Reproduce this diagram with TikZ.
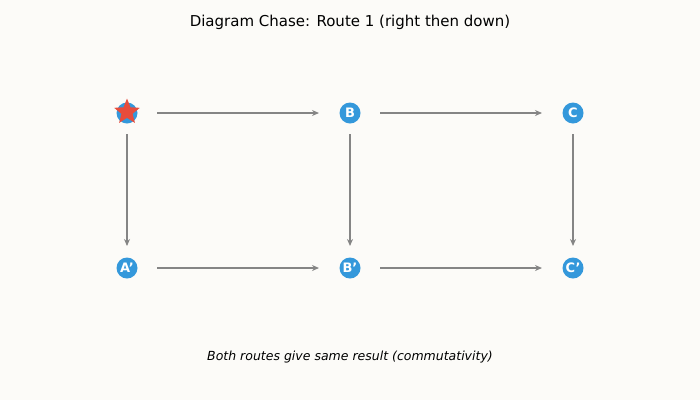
\documentclass[tikz,border=0pt]{standalone}
\usepackage{fontspec}
\setmainfont{DejaVu Sans}
\usetikzlibrary{shapes.geometric,arrows.meta}
\definecolor{bg}{HTML}{FCFBF8}
\definecolor{nodeblue}{HTML}{3498DB}
\definecolor{starred}{HTML}{E74C3C}
\definecolor{arr}{HTML}{858585}
\newcommand{\prm}{\char"0027\relax}
\begin{document}
\begin{tikzpicture}[x=1pt,y=-1pt,
  obj/.style={circle,fill=nodeblue,minimum size=21pt,inner sep=0pt,text=white,font=\bfseries\fontsize{13}{13}\selectfont},
  mor/.style={draw=arr,line width=1.2pt,-{Stealth[length=7pt,width=6pt]}}]
\fill[bg] (0,0) rectangle (700,400);
\useasboundingbox (0,0) rectangle (700,400);
\node[font=\fontsize{15}{17}\selectfont] (title) at (350,22) {Diagram Chase: Route 1 (right then down)};
\node[obj] (A) at (127,113) {A};
\node[star,star points=5,star point ratio=2.3,fill=starred,minimum size=27pt,inner sep=0pt] (Astar) at (127,112) {};
\node[obj] (B) at (350,113) {B};
\node[obj] (C) at (573,113) {C};
\node[obj] (A2) at (127,268) {A\prm};
\node[obj] (B2) at (350,268) {B\prm};
\node[obj] (C2) at (573,268) {C\prm};
\draw[mor] (157,113) -- (319,113);
\draw[mor] (380,113) -- (542,113);
\draw[mor] (157,268) -- (319,268);
\draw[mor] (380,268) -- (542,268);
\draw[mor] (127,134) -- (127,246);
\draw[mor] (350,134) -- (350,246);
\draw[mor] (573,134) -- (573,246);
\node[font=\itshape\fontsize{12.5}{14}\selectfont] (cap) at (350,357) {Both routes give same result (commutativity)};
\end{tikzpicture}
\end{document}
